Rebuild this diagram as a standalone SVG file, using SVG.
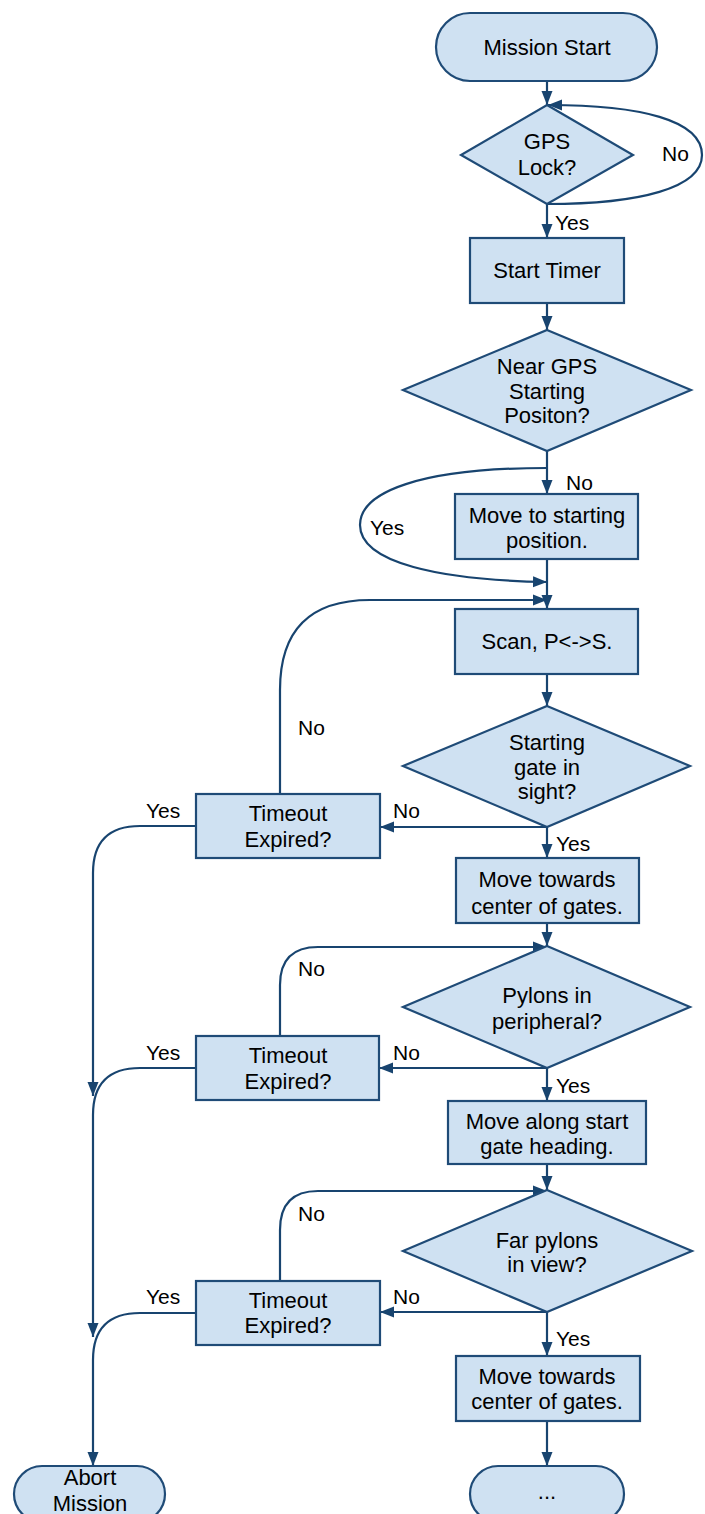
<svg xmlns="http://www.w3.org/2000/svg" width="705" height="1514" viewBox="0 0 705 1514">
<defs>
<style>
.n{fill:#cfe1f2;stroke:#1f4b77;stroke-width:2.2}
.t{font-family:"Liberation Sans",Arial,sans-serif;font-size:22px;fill:#000;text-anchor:middle}
.l{font-family:"Liberation Sans",Arial,sans-serif;font-size:21px;fill:#000}
.c{fill:none;stroke:#18446f;stroke-width:2.2}
.a{marker-end:url(#ah)}
</style>
<marker id="ah" markerUnits="userSpaceOnUse" markerWidth="15" markerHeight="12" refX="14" refY="6" orient="auto">
<path d="M0,0.5 L14,6 L0,11.5 z" fill="#18446f"/>
</marker>
</defs>
<rect width="705" height="1514" fill="#fff"/>
<g id="connectors">
<path class="c a" d="M547,81 V105"/>
<path class="c a" d="M547,204 C640,204 702,188 702,155 C702,120 640,105 548,105"/>
<path class="c a" d="M547,204 V238"/>
<path class="c a" d="M547,303 V330"/>
<path class="c a" d="M547,451 V494"/>
<path class="c a" d="M547,468 C420,468 360,492 360,525 C360,563 440,580 547,582"/>
<path class="c a" d="M547,559 V609"/>
<path class="c a" d="M280,794 V690 Q280,600 370,600 H547"/>
<path class="c a" d="M547,674 V706"/>
<path class="c a" d="M547,827 H380"/>
<path class="c a" d="M547,827 V858"/>
<path class="c a" d="M196,826 H140 Q93,826 93,873 V1096"/>
<path class="c a" d="M547,923 V946"/>
<path class="c a" d="M280,1036 V985 Q280,947 318,947 H547"/>
<path class="c a" d="M547,1068 H379"/>
<path class="c a" d="M547,1068 V1101"/>
<path class="c a" d="M196,1068 H140 Q93,1068 93,1115 V1337"/>
<path class="c a" d="M547,1164 V1190"/>
<path class="c a" d="M280,1281 V1230 Q280,1191 318,1191 H547"/>
<path class="c a" d="M547,1312 H380"/>
<path class="c a" d="M547,1312 V1356"/>
<path class="c a" d="M196,1313 H140 Q93,1313 93,1360 V1466"/>
<path class="c a" d="M547,1421 V1466"/>
</g>
<g id="labels">
<text class="l" x="662" y="161">No</text>
<text class="l" x="555" y="230">Yes</text>
<text class="l" x="566" y="490">No</text>
<text class="l" x="370" y="535">Yes</text>
<text class="l" x="298" y="735">No</text>
<text class="l" x="146" y="818">Yes</text>
<text class="l" x="393" y="818">No</text>
<text class="l" x="556" y="851">Yes</text>
<text class="l" x="298" y="976">No</text>
<text class="l" x="146" y="1060">Yes</text>
<text class="l" x="393" y="1060">No</text>
<text class="l" x="556" y="1093">Yes</text>
<text class="l" x="298" y="1221">No</text>
<text class="l" x="146" y="1304">Yes</text>
<text class="l" x="393" y="1304">No</text>
<text class="l" x="556" y="1346">Yes</text>
</g>
<g id="mission-start"><rect class="n" x="436" y="13" width="221" height="68" rx="34"/><text class="t" x="547" y="55">Mission Start</text></g>
<g id="gps-lock"><polygon class="n" points="547,105 633,155 547,204 461,155"/><text class="t" x="547" y="149">GPS</text><text class="t" x="547" y="175">Lock?</text></g>
<g id="start-timer"><rect class="n" x="470" y="238" width="154" height="65"/><text class="t" x="547" y="278">Start Timer</text></g>
<g id="near-gps"><polygon class="n" points="547,330 691,390 547,451 403,390"/><text class="t" x="547" y="374">Near GPS</text><text class="t" x="547" y="399">Starting</text><text class="t" x="547" y="423">Positon?</text></g>
<g id="move-start"><rect class="n" x="455" y="494" width="183" height="65"/><text class="t" x="547" y="523">Move to starting</text><text class="t" x="547" y="548">position.</text></g>
<g id="scan"><rect class="n" x="455" y="609" width="183" height="65"/><text class="t" x="547" y="649">Scan, P&lt;-&gt;S.</text></g>
<g id="gate-sight"><polygon class="n" points="547,706 690,766 547,827 403,766"/><text class="t" x="547" y="750">Starting</text><text class="t" x="547" y="775">gate in</text><text class="t" x="547" y="799">sight?</text></g>
<g id="timeout1"><rect class="n" x="196" y="794" width="184" height="64"/><text class="t" x="288" y="821">Timeout</text><text class="t" x="288" y="847">Expired?</text></g>
<g id="move-center1"><rect class="n" x="456" y="858" width="183" height="65"/><text class="t" x="547" y="887">Move towards</text><text class="t" x="547" y="914">center of gates.</text></g>
<g id="pylons-peripheral"><polygon class="n" points="547,946 690,1007 547,1068 403,1007"/><text class="t" x="547" y="1003">Pylons in</text><text class="t" x="547" y="1029">peripheral?</text></g>
<g id="timeout2"><rect class="n" x="196" y="1036" width="183" height="64"/><text class="t" x="288" y="1063">Timeout</text><text class="t" x="288" y="1089">Expired?</text></g>
<g id="move-along"><rect class="n" x="448" y="1101" width="198" height="63"/><text class="t" x="547" y="1129">Move along start</text><text class="t" x="547" y="1154">gate heading.</text></g>
<g id="far-pylons"><polygon class="n" points="547,1190 692,1251 547,1312 403,1251"/><text class="t" x="547" y="1248">Far pylons</text><text class="t" x="547" y="1272">in view?</text></g>
<g id="timeout3"><rect class="n" x="196" y="1281" width="184" height="64"/><text class="t" x="288" y="1308">Timeout</text><text class="t" x="288" y="1333">Expired?</text></g>
<g id="move-center2"><rect class="n" x="456" y="1356" width="184" height="65"/><text class="t" x="547" y="1384">Move towards</text><text class="t" x="547" y="1409">center of gates.</text></g>
<g id="abort"><rect class="n" x="14" y="1466" width="151" height="56" rx="28"/><text class="t" x="90" y="1485">Abort</text><text class="t" x="90" y="1511">Mission</text></g>
<g id="continue"><rect class="n" x="470" y="1466" width="154" height="56" rx="28"/><text class="t" x="547" y="1499">...</text></g>
</svg>
